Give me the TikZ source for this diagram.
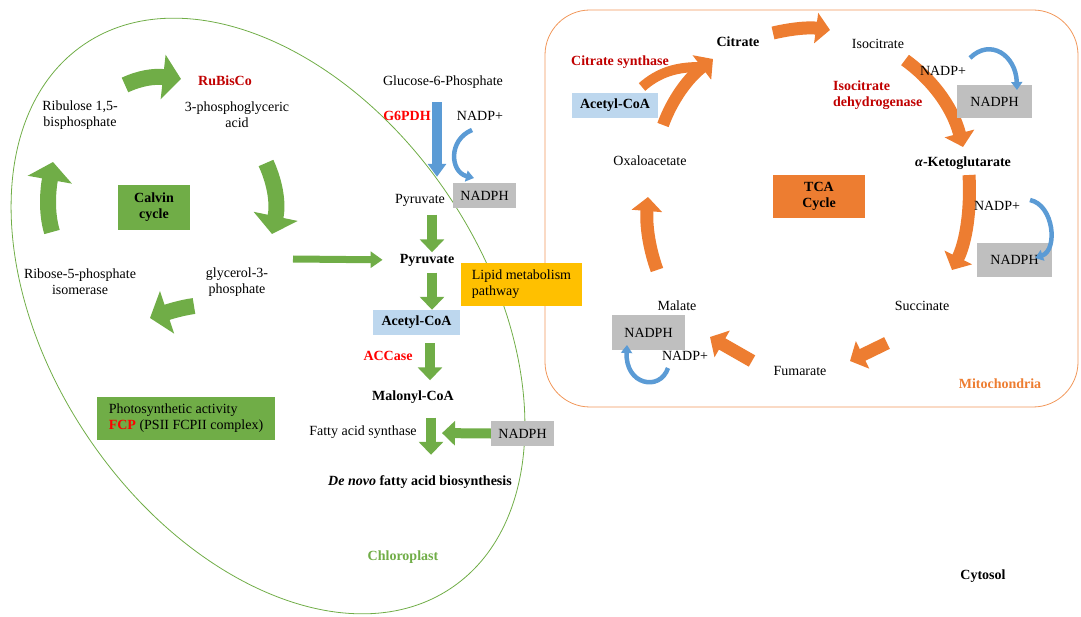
\documentclass[tikz,border=0pt]{standalone}
\usepackage{fontspec}
\setmainfont{Liberation Serif}
\usepackage{tikz}
\usetikzlibrary{
  arrows.meta,
  positioning,
  calc
}
\definecolor{mbGreen}{HTML}{70AD47}
\definecolor{mbBlue}{HTML}{5B9BD5}
\definecolor{mbOrange}{HTML}{ED7D31}
\definecolor{mbGray}{HTML}{BFBFBF}
\definecolor{mbLight}{HTML}{BDD7EE}
\definecolor{mbYellow}{HTML}{FFC000}
\definecolor{mbDark}{HTML}{C00000}
\definecolor{mbRed}{HTML}{FF0000}
\newcommand{\dsize}{\fontsize{14}{16}\selectfont}
\tikzset{
  lbl/.style={font=\dsize, inner sep=1pt, text height=10pt, text depth=3pt},
  lbltwo/.style={font=\dsize, inner sep=1pt, align=center},
  enzyme/.style={lbl, font=\dsize\bfseries, text=mbRed},
  enzdark/.style={lbl, font=\dsize\bfseries, text=mbDark},
  mbox/.style={font=\dsize, inner sep=1pt, align=center},
  nadph/.style={mbox, fill=mbGray, minimum width=63pt, minimum height=25pt},
  acoa/.style={mbox, fill=mbLight, font=\dsize\bfseries, minimum width=87pt, minimum height=25pt},
  greenbox/.style={mbox, fill=mbGreen},
  orangebox/.style={mbox, fill=mbOrange, font=\dsize\bfseries},
  yellowbox/.style={mbox, fill=mbYellow, align=left},
  calvarrow/.style={line width=16pt, mbGreen, -{Triangle[length=18pt, width=44pt]}},
  tcaarrow/.style={line width=13pt, mbOrange, -{Triangle[length=14pt, width=30pt]}},
  gshaft/.style={line width=10pt, mbGreen, -{Triangle[length=13pt, width=24pt]}},
  bshaft/.style={line width=10pt, mbBlue, -{Triangle[length=13pt, width=18pt]}},
  bcurve/.style={line width=4.5pt, mbBlue, -{Triangle[length=8pt, width=11pt]}},
  chloroline/.style={mbGreen, line width=0.8pt},
  mitoline/.style={mbOrange!80, line width=0.8pt}
}

\begin{document}
\begin{tikzpicture}[x=1pt, y=-1pt]
  \useasboundingbox (0,0) rectangle (1081,617);

  % compartments
  \draw[chloroline, rotate around={34:(268,316)}] (268,316) ellipse [x radius=217pt, y radius=328pt];
  \draw[mitoline, rounded corners=45pt] (545,10) rectangle (1078,407);
  \node[lbl, font=\dsize\bfseries, text=mbGreen] (chloro) at (403,557) {Chloroplast};
  \node[lbl, font=\dsize\bfseries, text=mbOrange] (mito) at (1000,385) {Mitochondria};
  \node[lbl, font=\dsize\bfseries] (cytosol) at (983,576) {Cytosol};

  % Calvin cycle
  \node[enzdark] (rubisco) at (225,82) {RuBisCo};
  \node[lbltwo] (pga) at (237,115) {3-phosphoglyceric\\acid};
  \node[lbltwo] (rubp) at (80,115) {Ribulose 1,5-\\bisphosphate};
  \node[lbltwo] (r5p) at (80,282) {Ribose-5-phosphate\\isomerase};
  \node[lbltwo] (g3p) at (237,282) {glycerol-3-\\phosphate};
  \node[greenbox, font=\dsize\bfseries, minimum width=72pt, minimum height=45pt] (calvin) at (154,207.5) {Calvin\\cycle};
  \node[greenbox, align=left, minimum width=178pt, minimum height=43pt] (photo) at (186,418.5)
    {Photosynthetic activity\\{\color{mbRed}\bfseries FCP} (PSII FCPII complex)};
  \draw[calvarrow] (125,85) .. controls (140,78) and (154,76) .. (181,79);
  \draw[calvarrow] (266,163) .. controls (276,185) and (278,205) .. (272,234);
  \draw[calvarrow] (194,306) .. controls (180,308) and (168,312) .. (150,318);
  \draw[calvarrow] (52,232) .. controls (46,212) and (48,190) .. (53,162);

  % lipid pathway
  \node[lbl] (g6p) at (443,82) {Glucose-6-Phosphate};
  \node[enzyme] (g6pdh) at (407,117) {G6PDH};
  \node[lbl] (nadpA) at (480,117) {NADP+};
  \node[nadph] (nadphA) at (484.5,195.5) {NADPH};
  \node[lbl] (pyrA) at (420,200) {Pyruvate};
  \node[lbl, font=\dsize\bfseries] (pyrB) at (427,260) {Pyruvate};
  \node[yellowbox, minimum width=121pt, minimum height=43pt] (lipid) at (521.5,284.5) {Lipid metabolism\\pathway};
  \node[acoa] (acoA) at (416.5,322.5) {Acetyl-CoA};
  \node[enzyme] (accase) at (388,357) {ACCase};
  \node[lbl, font=\dsize\bfseries] (malonyl) at (413,397) {Malonyl-CoA};
  \node[lbl] (fas) at (363,432) {Fatty acid synthase};
  \node[nadph] (nadphB) at (522.5,433.5) {NADPH};
  \node[lbl, font=\dsize\bfseries] (denovo) at (420,482) {\textit{De novo} fatty acid biosynthesis};
  \coordinate (fasin) at (431,433);
  \coordinate (calvout) at (293,259);

  \draw[bshaft, shorten <=12.5pt, shorten >=15.5pt] ([xshift=-6pt]g6p.south) -- ([xshift=-6pt]g6p.south |- pyrA.north);
  \draw[bcurve] (472,130) .. controls (448,140) and (450,172) .. (474,178);
  \draw[gshaft, shorten <=7pt] ([xshift=12pt]pyrA.south) -- ([xshift=5pt]pyrB.north);
  \draw[gshaft, shorten <=5pt] ([xshift=5pt]pyrB.south) -- ([xshift=15.5pt]acoA.north);
  \draw[gshaft, shorten <=8pt, shorten >=9pt] ([xshift=13.5pt]acoA.south) -- ([xshift=17pt]malonyl.north);
  \draw[gshaft, shorten <=13pt, shorten >=19.5pt] ([xshift=18pt]malonyl.south) -- ([xshift=11pt]denovo.north);
  \draw[gshaft, shorten >=11pt] (nadphB.west) -- (fasin);
  \draw[line width=7pt, mbGreen, -{Triangle[length=12pt, width=16pt]}, shorten >=16pt] (calvout) -- (pyrB.west);

  % TCA cycle (arrows first, labels on top)
  \draw[tcaarrow] (773,33) .. controls (790,29) and (808,27) .. (830,30);
  \draw[tcaarrow] (905,60) .. controls (930,78) and (952,105) .. (963,147);
  \draw[tcaarrow] (969,175) .. controls (971,210) and (966,242) .. (952,270);
  \draw[tcaarrow] (887,343) -- (850,361);
  \draw[tcaarrow] (752,361) -- (710,337);
  \draw[tcaarrow] (657,270) .. controls (648,245) and (646,222) .. (648,197);
  \draw[line width=10pt, mbOrange] (642,87) .. controls (658,73) and (675,67) .. (700,67);
  \draw[tcaarrow, line width=12pt] (663,125) .. controls (672,100) and (688,78) .. (713,59);

  \node[lbl, font=\dsize\bfseries] (citrate) at (738,43) {Citrate};
  \node[lbl] (isocit) at (878,45) {Isocitrate};
  \node[enzdark] (cs) at (620,62) {Citrate synthase};
  \node[acoa, minimum width=86pt] (acoB) at (615,105.5) {Acetyl-CoA};
  \node[lbltwo, font=\dsize\bfseries, text=mbDark, align=left, anchor=west] (idh) at (832,95) {Isocitrate\\dehydrogenase};
  \node[lbl] (nadpB) at (943,72) {NADP+};
  \node[nadph, minimum width=75pt, minimum height=33pt] (nadphC) at (994.5,101.5) {NADPH};
  \node[lbl, font=\dsize\bfseries] (akg) at (963,163) {\textit{α}-Ketoglutarate};
  \node[lbl] (nadpC) at (997,207) {NADP+};
  \node[nadph, minimum width=75pt, minimum height=34pt] (nadphD) at (1014.5,260) {NADPH};
  \node[lbl] (succ) at (922,307) {Succinate};
  \node[lbl] (fum) at (800,372) {Fumarate};
  \node[lbl] (mal) at (677,307) {Malate};
  \node[lbl] (nadpD) at (685,357) {NADP+};
  \node[nadph, minimum width=73pt, minimum height=35pt] (nadphE) at (648.5,332.5) {NADPH};
  \node[lbl] (oaa) at (650,162) {Oxaloacetate};
  \node[orangebox, minimum width=92pt, minimum height=43pt] (tca) at (819,196.5) {TCA\\Cycle};

  \draw[bcurve] (970,58) .. controls (990,38) and (1016,55) .. (1017,90);
  \draw[bcurve] (1030,200) .. controls (1054,205) and (1058,250) .. (1035,258);
  \draw[bcurve] (668,368) .. controls (660,392) and (625,385) .. (627,345);
\end{tikzpicture}
\end{document}
